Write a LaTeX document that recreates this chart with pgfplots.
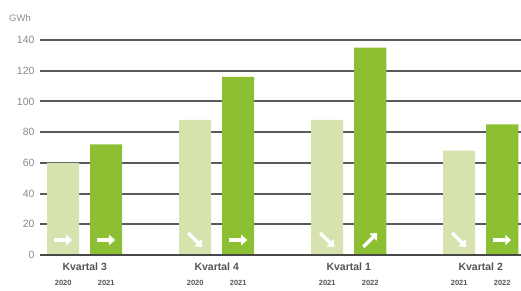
\documentclass[border=0pt]{standalone}
\usepackage{fontspec}
\setmainfont{Liberation Sans}
\usepackage{pgfplots}
\pgfplotsset{compat=1.18}
\usetikzlibrary{arrows.meta}
\definecolor{lightg}{HTML}{D7E3AE}
\definecolor{darkg}{HTML}{8DBF32}
\definecolor{gridc}{HTML}{5A5A5A}
\definecolor{txt}{HTML}{8A8A8A}
\definecolor{lab}{HTML}{555555}
\newcommand{\Rarr}[2]{\draw[white,line width=3.2pt,-{Triangle[length=6pt,width=10pt]}] ([xshift={#2pt-9pt},yshift=15pt]axis cs:#1,0) -- ++(18pt,0pt);}
\newcommand{\DRarr}[2]{\draw[white,line width=3.2pt,-{Triangle[length=6pt,width=10pt]}] ([xshift={#2pt-7pt},yshift=22pt]axis cs:#1,0) -- ++(14pt,-14pt);}
\newcommand{\URarr}[2]{\draw[white,line width=3.2pt,-{Triangle[length=6pt,width=10pt]}] ([xshift={#2pt-7pt},yshift=8pt]axis cs:#1,0) -- ++(14pt,14pt);}
\newcommand{\Years}[3]{%
  \node[font=\bfseries\fontsize{7.5}{8}\selectfont, color=lab] at ([xshift=-21.5pt,yshift=-28pt]axis cs:#1,0) {#2};
  \node[font=\bfseries\fontsize{7.5}{8}\selectfont, color=lab] at ([xshift=21.5pt,yshift=-28pt]axis cs:#1,0) {#3};}
\begin{document}
\begin{tikzpicture}[x=1pt,y=1pt]
\useasboundingbox (0,0) rectangle (521,291);
\begin{axis}[
  at={(40pt,36pt)}, anchor=south west,
  scale only axis, width=481pt, height=215pt,
  xmin=-0.339, xmax=3.305, ymin=0, ymax=140,
  axis line style={draw=none}, major tick length=0pt,
  ytick={0,20,...,140},
  ymajorgrids, grid style={gridc, line width=2pt},
  yticklabel style={font=\fontsize{10.5}{12}\selectfont, color=txt, xshift=-2pt},
  /pgf/number format/assume math mode=true,
  xtick={0,1,2,3},
  xticklabels={Kvartal 3,Kvartal 4,Kvartal 1,Kvartal 2},
  xticklabel style={font=\bfseries\fontsize{10.5}{12}\selectfont, color=lab, yshift=-4pt},
  clip=false,
]
\addplot[ybar, bar width=32pt, bar shift=-21.5pt, fill=lightg, draw=none]
  coordinates {(0,60) (1,88) (2,88) (3,68)};
\addplot[ybar, bar width=32pt, bar shift=21.5pt, fill=darkg, draw=none]
  coordinates {(0,72) (1,116) (2,135) (3,85)};
\draw[color=gridc!80!black, line width=2.6pt] (axis cs:-0.339,0) -- (axis cs:3.305,0);
\Rarr{0}{-21.5}\Rarr{0}{21.5}
\DRarr{1}{-21.5}\Rarr{1}{21.5}
\DRarr{2}{-21.5}\URarr{2}{21.5}
\DRarr{3}{-21.5}\Rarr{3}{21.5}
\Years{0}{2020}{2021}
\Years{1}{2020}{2021}
\Years{2}{2021}{2022}
\Years{3}{2021}{2022}
\end{axis}
\node[anchor=west, font=\fontsize{9.5}{10}\selectfont, color=txt, inner sep=0pt] at (9,273) {GWh};
\end{tikzpicture}
\end{document}
